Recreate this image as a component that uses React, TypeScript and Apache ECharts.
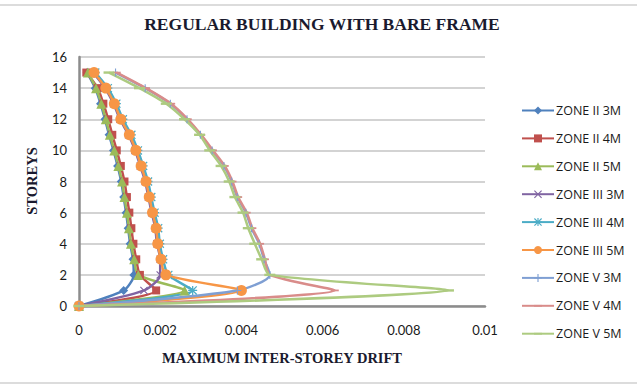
import React, { useEffect, useRef } from "react";
import * as echarts from "echarts";

const storeys = [0, 1, 2, 3, 4, 5, 6, 7, 8, 9, 10, 11, 12, 13, 14, 15];
const seriesNames = [
  "ZONE II 3M", "ZONE II 4M", "ZONE II 5M",
  "ZONE III 3M", "ZONE III 4M", "ZONE III 5M",
  "ZONE V 3M", "ZONE V 4M", "ZONE V 5M",
];
const zoneII3M = [0, 0.0011, 0.00135, 0.00133, 0.00126, 0.00121, 0.00116, 0.0011, 0.00104, 0.00095, 0.00085, 0.00074, 0.00064, 0.00053, 0.0004, 0.0002];
const zoneII4M = [0, 0.0019, 0.0015, 0.00141, 0.00134, 0.00129, 0.00124, 0.00118, 0.00112, 0.00103, 0.00093, 0.00082, 0.00072, 0.0006, 0.00046, 0.00018];
const zoneII5M = [0, 0.0026, 0.00146, 0.00136, 0.00128, 0.00123, 0.00118, 0.00112, 0.00106, 0.00097, 0.00087, 0.00076, 0.00066, 0.00055, 0.00042, 0.00022];
const zoneIII3M = [0, 0.0016, 0.002, 0.002, 0.00192, 0.00188, 0.00179, 0.00171, 0.00163, 0.00151, 0.00138, 0.00122, 0.00101, 0.00085, 0.00064, 0.00035];
const zoneIII4M = [0, 0.0028, 0.0022, 0.00207, 0.00199, 0.00195, 0.00186, 0.00178, 0.0017, 0.00158, 0.00145, 0.00129, 0.00108, 0.00092, 0.00071, 0.0004];
const zoneIII5M = [0, 0.004, 0.00214, 0.00202, 0.00194, 0.0019, 0.00181, 0.00173, 0.00165, 0.00153, 0.0014, 0.00124, 0.00103, 0.00087, 0.00066, 0.00037];
const zoneV3M = [0, 0.0039, 0.0047, 0.00456, 0.00444, 0.00425, 0.00411, 0.0039, 0.00376, 0.00357, 0.00328, 0.00299, 0.00266, 0.00225, 0.00163, 0.0009];
const zoneV4M = [0, 0.0063, 0.0047, 0.00458, 0.00446, 0.00427, 0.00413, 0.00392, 0.00378, 0.00359, 0.0033, 0.00301, 0.00268, 0.00227, 0.00165, 0.00093];
const zoneV5M = [0, 0.0091, 0.0047, 0.0045, 0.00433, 0.00417, 0.00404, 0.00384, 0.0037, 0.0035, 0.00322, 0.00297, 0.0026, 0.00215, 0.00149, 0.00074];
const xTicks = [0, 0.002, 0.004, 0.006, 0.008, 0.01];
const yTicks = [0, 2, 4, 6, 8, 10, 12, 14, 16];

const allValues = [zoneII3M, zoneII4M, zoneII5M, zoneIII3M, zoneIII4M, zoneIII5M, zoneV3M, zoneV4M, zoneV5M];
const colors = ["#4F81BD", "#C0504D", "#9BBB59", "#8064A2", "#4BACC6", "#F79646", "#7F9FD3", "#D98C8A", "#ADCB80"];

const X_PATH = "path://M1,0 L5,4 L9,0 L10,1 L6,5 L10,9 L9,10 L5,6 L1,10 L0,9 L4,5 L0,1 Z";
const STAR_PATH = "path://M4.3,0 H5.7 V10 H4.3 Z M0,4.3 H10 V5.7 H0 Z M1,0 L10,9 L9,10 L0,1 Z M9,0 L10,1 L1,10 L0,9 Z";
const PLUS_PATH = "path://M4.3,0 H5.7 V4.3 H10 V5.7 H5.7 V10 H4.3 V5.7 H0 V4.3 H4.3 Z";
const DASH_PATH = "path://M0,0 M10,10 M0,3.9 H10 V6.1 H0 Z";
const symbols: any[] = ["diamond", "rect", "triangle", X_PATH, STAR_PATH, "circle", PLUS_PATH, DASH_PATH, DASH_PATH];
const symbolSizes: any[] = [9, 8, 10, 8, 9, 11, 8, 8, 11];

const SERIF = "'Liberation Serif', 'DejaVu Serif', serif";
const SANS = "'Open Sans', Lato, 'Liberation Sans', sans-serif";

export default function App() {
  const ref = useRef<HTMLDivElement>(null);
  useEffect(() => {
    document.body.style.margin = "0";
    const chart = echarts.init(ref.current!, null, { renderer: "svg" });
    const series = seriesNames.map((name, i) => ({
      name,
      type: "line",
      data: storeys.map((s, k) => [allValues[i][k], s]),
      smooth: 0.25,
      symbol: symbols[i],
      symbolSize: symbolSizes[i],
      showAllSymbol: true,
      lineStyle: { color: colors[i], width: 2.5 },
      itemStyle: { color: colors[i] },
      emphasis: { disabled: true },
    }));
    chart.setOption({
      animation: false,
      backgroundColor: "#ffffff",
      grid: { left: 79, right: 152, top: 57, bottom: 81, containLabel: false },
      xAxis: {
        type: "value",
        min: 0,
        max: 0.01,
        interval: 0.002,
        axisLine: { show: true, lineStyle: { color: "#8c8c8c", width: 2.5 } },
        axisTick: { show: false },
        splitLine: { show: false },
        axisLabel: {
          margin: 17,
          fontFamily: "Lato, sans-serif",
          fontSize: 13,
          color: "#1a1a1a",
          formatter: (v: number) => String(parseFloat(v.toFixed(4))),
        },
      },
      yAxis: {
        type: "value",
        min: 0,
        max: 16,
        interval: 2,
        axisLine: { show: true, lineStyle: { color: "#8c8c8c", width: 2.5 } },
        axisTick: { show: false },
        splitLine: { show: true, lineStyle: { color: "#c4c4c4", width: 1.5 } },
        axisLabel: {
          margin: 12,
          fontFamily: "Lato, sans-serif",
          fontSize: 13,
          color: "#1a1a1a",
        },
      },
      legend: {
        orient: "vertical",
        left: 516,
        top: 99,
        itemWidth: 32,
        itemHeight: 10,
        itemGap: 14.9,
        textStyle: { fontFamily: SANS, fontSize: 12.5, color: "#1a1a1a", lineHeight: 12, padding: [0, 0, 0, -3] },
        data: seriesNames,
      },
      graphic: [
        { type: "line", shape: { x1: 0, y1: 5, x2: 637, y2: 5 }, style: { stroke: "#d0d0d0", lineWidth: 1.5 } },
        { type: "line", shape: { x1: 0, y1: 383, x2: 637, y2: 383 }, style: { stroke: "#d0d0d0", lineWidth: 1.5 } },
        {
          type: "text", x: 322, y: 24,
          style: { text: "REGULAR BUILDING WITH BARE FRAME", font: `bold 17.5px ${SERIF}`, fill: "#1a1a2e", textAlign: "center", textVerticalAlign: "middle" },
        },
        {
          type: "text", x: 282, y: 358,
          style: { text: "MAXIMUM INTER-STOREY DRIFT", font: `bold 14.5px ${SERIF}`, fill: "#1a1a2e", textAlign: "center", textVerticalAlign: "middle" },
        },
        {
          type: "text", x: 32, y: 181, rotation: Math.PI / 2,
          style: { text: "STOREYS", font: `bold 14.5px ${SERIF}`, fill: "#1a1a2e", textAlign: "center", textVerticalAlign: "middle" },
        },
      ],
      series,
    });
    return () => chart.dispose();
  }, []);
  return <div ref={ref} style={{ width: 637, height: 387 }} />;
}
